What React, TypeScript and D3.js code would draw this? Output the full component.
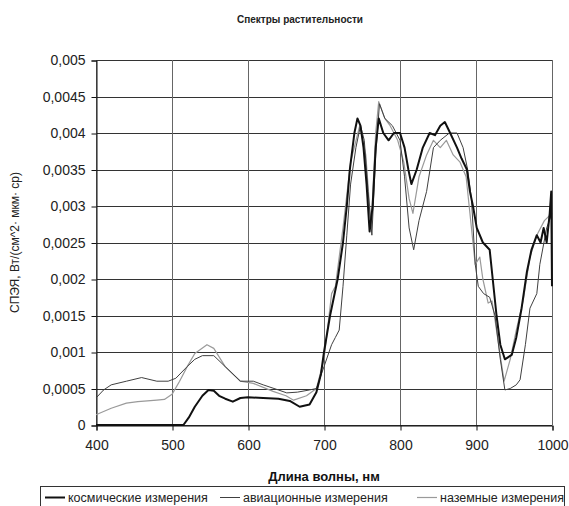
import React, { Component } from 'react';
import * as d3 from 'd3';

// wavelength (nm), value pairs
const spaceSeries: [number, number][] = [
  [400, 0], [450, 0], [500, 0], [515, 0], [522, 0.0001], [530, 0.00025], [540, 0.0004], [548, 0.00048],
  [555, 0.00047], [562, 0.0004], [570, 0.00036], [580, 0.00032], [590, 0.00037], [600, 0.00038],
  [620, 0.00037], [640, 0.00036], [655, 0.00033], [668, 0.00025], [681, 0.00028], [690, 0.00045],
  [696, 0.0007], [700, 0.001], [708, 0.0015], [718, 0.002], [725, 0.0025], [730, 0.003], [734, 0.0035],
  [740, 0.004], [744, 0.0042], [748, 0.0041], [752, 0.0038], [756, 0.0033], [760, 0.00265], [764, 0.003],
  [768, 0.0038], [772, 0.0042], [778, 0.004], [785, 0.0039], [792, 0.004], [800, 0.004], [806, 0.0038],
  [811, 0.0035], [815, 0.0033], [822, 0.0035], [830, 0.0038], [839, 0.004], [846, 0.00397], [853, 0.0041],
  [859, 0.00415], [866, 0.004], [875, 0.0038], [881, 0.00365], [888, 0.0035], [892, 0.0032], [896, 0.003],
  [901, 0.0027], [909, 0.0025], [918, 0.0024], [922, 0.002], [927, 0.0015], [932, 0.0011], [938, 0.0009],
  [947, 0.00096], [953, 0.0012], [960, 0.0016], [967, 0.0021], [973, 0.0024], [980, 0.0026], [985, 0.0025],
  [989, 0.0027], [993, 0.0025], [997, 0.0029], [999, 0.0032], [1000, 0.0019],
];

const airSeries: [number, number][] = [
  [400, 0.00037], [410, 0.00048], [420, 0.00055], [440, 0.0006], [460, 0.00065], [480, 0.0006],
  [495, 0.0006], [505, 0.00064], [520, 0.0008], [530, 0.0009], [540, 0.00095], [555, 0.00095],
  [570, 0.0008], [590, 0.0006], [607, 0.0006], [620, 0.00055], [640, 0.00048], [651, 0.00044],
  [665, 0.00045], [681, 0.00048], [690, 0.0005], [700, 0.0008], [710, 0.0011], [715, 0.0012],
  [720, 0.0013], [725, 0.0019], [730, 0.0026], [735, 0.0033], [742, 0.0038], [748, 0.0041],
  [753, 0.0039], [758, 0.0032], [763, 0.0026], [768, 0.0037], [773, 0.0044], [780, 0.0042],
  [790, 0.0041], [800, 0.0039], [806, 0.0034], [812, 0.0027], [818, 0.0024], [825, 0.0028],
  [835, 0.0032], [844, 0.0038], [853, 0.0039], [865, 0.004], [875, 0.004], [883, 0.0038],
  [889, 0.0035], [894, 0.0031], [899, 0.0022], [903, 0.0019], [910, 0.0018], [918, 0.00175],
  [925, 0.0015], [932, 0.0009], [938, 0.00048], [945, 0.0005], [953, 0.00055], [958, 0.00062],
  [965, 0.0011], [971, 0.0016], [980, 0.0018], [984, 0.0022], [993, 0.0027], [1000, 0.0029],
];

const groundSeries: [number, number][] = [
  [400, 0.00014], [420, 0.00023], [440, 0.0003], [455, 0.00032], [480, 0.00034], [490, 0.00035],
  [500, 0.00042], [510, 0.0006], [520, 0.0008], [530, 0.00098], [546, 0.0011], [555, 0.00105],
  [570, 0.0008], [590, 0.0006], [607, 0.00057], [633, 0.00046], [650, 0.0004], [660, 0.00034],
  [677, 0.0004], [690, 0.0005], [700, 0.0009], [710, 0.0018], [715, 0.0019], [725, 0.0027],
  [735, 0.0036], [747, 0.0041], [755, 0.0037], [762, 0.0027], [768, 0.004], [772, 0.00443],
  [780, 0.0042], [787, 0.0041], [797, 0.0039], [805, 0.0036], [812, 0.0031], [817, 0.0029],
  [825, 0.0034], [835, 0.0037], [844, 0.0039], [853, 0.0038], [861, 0.0039], [870, 0.0037],
  [879, 0.0036], [887, 0.0034], [899, 0.0022], [905, 0.0023], [909, 0.002], [916, 0.00167],
  [921, 0.0017], [925, 0.00144], [932, 0.00094], [937, 0.0006], [945, 0.0009], [953, 0.0013],
  [962, 0.0017], [971, 0.0023], [980, 0.0026], [990, 0.0028], [1000, 0.0029],
];

const xTicks = [400, 500, 600, 700, 800, 900, 1000];
const yTicks = [0, 0.0005, 0.001, 0.0015, 0.002, 0.0025, 0.003, 0.0035, 0.004, 0.0045, 0.005];
const seriesNames = ['космические измерения', 'авиационные измерения', 'наземные измерения'];

class App extends Component {
  svgRef = React.createRef<SVGSVGElement>();

  componentDidMount() {
    this.draw();
  }

  draw = () => {
    const width = 569, height = 506;
    const left = 96, right = 552, top = 60, bottom = 425;
    const font = 'Arial, "Liberation Sans", sans-serif';

    const svg = d3.select(this.svgRef.current);
    svg.selectAll('*').remove();

    const x = d3.scaleLinear().domain([400, 1000]).range([left, right]);
    const y = d3.scaleLinear().domain([0, 0.005]).range([bottom, top]);
    const fmt = (v: number) => (v === 0 ? '0' : String(+v.toFixed(4)).replace('.', ','));

    svg.append('rect').attr('width', width).attr('height', height).attr('fill', '#fff');

    // grid
    svg.append('g').selectAll('line').data(yTicks).enter().append('line')
      .attr('x1', left).attr('x2', right)
      .attr('y1', (d) => Math.round(y(d)) + 0.5).attr('y2', (d) => Math.round(y(d)) + 0.5)
      .attr('stroke', '#333').attr('stroke-width', 1);
    svg.append('g').selectAll('line').data(xTicks).enter().append('line')
      .attr('x1', (d) => Math.round(x(d)) + 0.5).attr('x2', (d) => Math.round(x(d)) + 0.5)
      .attr('y1', top).attr('y2', bottom)
      .attr('stroke', '#666').attr('stroke-width', 1);

    // axes
    const yAxis = svg.append('g').attr('transform', `translate(${left + 0.5}, 0.5)`)
      .call(d3.axisLeft(y).tickValues(yTicks).tickFormat((d) => fmt(d as number)).tickSize(5).tickPadding(6));
    const xAxis = svg.append('g').attr('transform', `translate(0.5, ${bottom + 0.5})`)
      .call(d3.axisBottom(x).tickValues(xTicks).tickFormat((d) => String(d)).tickSize(5).tickPadding(10));
    [yAxis, xAxis].forEach((g) => {
      g.select('.domain').attr('stroke', '#111');
      g.selectAll('.tick line').attr('stroke', '#111');
      g.selectAll('.tick text').attr('fill', '#222').attr('font-family', font).attr('font-size', 14);
    });

    // lines
    const line = d3.line<[number, number]>().x((d) => x(d[0])).y((d) => y(d[1]));
    const styles = [
      { data: groundSeries, color: '#9a9a9a', w: 1.2 },
      { data: airSeries, color: '#404040', w: 1 },
      { data: spaceSeries, color: '#111', w: 2 },
    ];
    styles.forEach((s) => {
      svg.append('path').datum(s.data).attr('d', line)
        .attr('fill', 'none').attr('stroke', s.color).attr('stroke-width', s.w).attr('stroke-linejoin', 'round');
    });

    // titles
    svg.append('text').attr('x', 300).attr('y', 23).attr('text-anchor', 'middle')
      .attr('font-family', font).attr('font-size', 10).attr('font-weight', 'bold')
      .attr('fill', '#222').text('Спектры растительности');
    svg.append('text').attr('x', (left + right) / 2).attr('y', 481).attr('text-anchor', 'middle')
      .attr('font-family', font).attr('font-size', 13).attr('font-weight', 'bold')
      .attr('fill', '#111').text('Длина волны, нм');
    svg.append('text').attr('transform', `translate(19, ${(top + bottom) / 2}) rotate(-90)`).attr('text-anchor', 'middle')
      .attr('font-family', font).attr('font-size', 12)
      .attr('fill', '#222').text('СПЭЯ, Вт/(см^2· мкм· ср)');

    // legend
    svg.append('rect').attr('x', 40.5).attr('y', 486.5).attr('width', 524).attr('height', 24)
      .attr('fill', '#fff').attr('stroke', '#333');
    const legendX = [45, 220, 417];
    const legendStyle = [styles[2], styles[1], styles[0]];
    seriesNames.forEach((name, i) => {
      svg.append('line').attr('x1', legendX[i]).attr('x2', legendX[i] + 20).attr('y1', 497.5).attr('y2', 497.5)
        .attr('stroke', legendStyle[i].color).attr('stroke-width', legendStyle[i].w);
      svg.append('text').attr('x', legendX[i] + 23).attr('y', 502)
        .attr('font-family', font).attr('font-size', 12.5)
        .attr('fill', '#222').text(name);
    });
  }

  render() {
    return (
      <svg ref={this.svgRef} width={569} height={506}
        style={{ position: 'absolute', left: 0, top: 0, display: 'block' }} />
    );
  }
}

export default App;
